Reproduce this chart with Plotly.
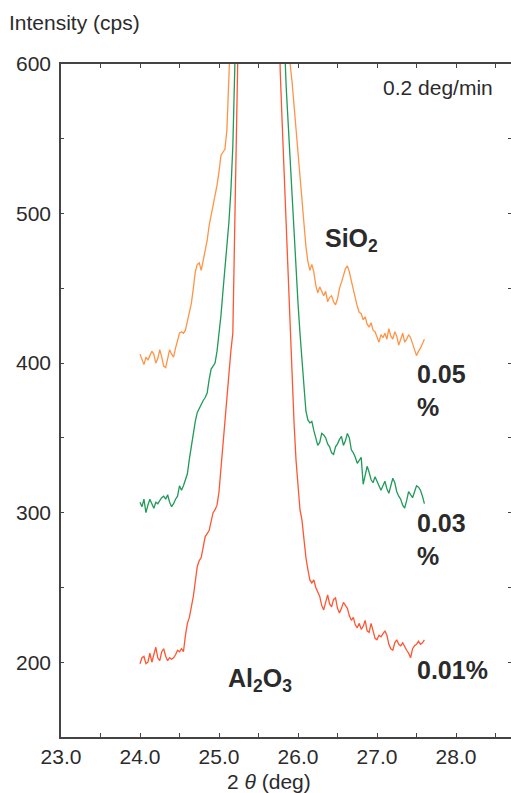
import numpy as np
import plotly.graph_objects as go

# 2-theta grid shared by the three scans (24.0 .. 27.6 deg, 0.025 deg step)
two_theta = np.round(24.0 + 0.025 * np.arange(145), 3)

# 0.05 % SiO2 scan (cps)
cps_005 = [
    406, 402, 399, 404, 402, 405, 408, 406, 400, 403,
    409, 404, 398, 397, 403, 409, 406, 404, 410, 415,
    420, 421, 420, 422, 428, 434, 440, 450, 461, 466,
    467, 462, 468, 476, 482, 492, 499, 504, 511, 519,
    528, 539, 541, 543, 556, 585, 610, 660, 740, 830,
    930, 1050, 1200, 1400, 1650, 1950, 2300, 2700, 3100, 3400,
    3500, 3400, 3100, 2700, 2300, 1900, 1550, 1250, 1050, 920,
    840, 780, 740, 715,
    700, 640, 600, 588, 572, 558, 542, 527, 508, 492,
    478, 468, 462, 466, 461, 452, 447, 451, 448, 445,
    448, 441, 444, 445, 441, 439, 443, 450, 454, 459,
    463, 465, 461, 455, 449, 442, 438, 434, 433, 429,
    431, 426, 424, 427, 422, 421, 418, 414, 419, 417,
    420, 416, 423, 418, 416, 421, 418, 412, 416, 420,
    414, 416, 419, 417, 413, 409, 405, 408, 410, 413,
    416,
]

# 0.03 % SiO2 scan (cps)
cps_003 = [
    307, 304, 309, 300, 305, 309, 306, 303, 307, 306,
    308, 310, 311, 309, 312, 307, 304, 306, 309, 311,
    318, 315, 318, 322, 326, 336, 345, 353, 361, 367,
    370, 373, 375, 377, 380, 389, 396, 398, 400, 408,
    419, 432, 448, 462, 476, 494, 515, 545, 598, 680,
    800, 950, 1150, 1400, 1700, 2050, 2450, 2850, 3200, 3450,
    3550, 3450, 3200, 2850, 2450, 2050, 1700, 1400, 1150, 950,
    820, 740,
    680, 620, 585, 560, 540, 515, 490, 465, 440, 420,
    400, 385, 368, 362, 360, 361, 355, 350, 345, 347,
    353, 352, 350, 346, 344, 340, 339, 344, 346, 349,
    351, 345, 348, 353, 350, 342, 340, 337, 333, 335,
    337, 319, 325, 331, 327, 322, 320, 324, 321, 318,
    315, 318, 321, 316, 313, 318, 323, 320, 314, 311,
    309, 305, 303, 308, 314, 312, 310, 314, 318, 317,
    315, 311, 306,
]

# 0.01 % SiO2 scan (cps)
cps_001 = [
    199, 203, 204, 199, 200, 206, 200, 206, 210, 203,
    201, 207, 209, 204, 201, 203, 202, 203, 205, 208,
    207, 209, 207, 218, 226, 230, 237, 244, 254, 264,
    268, 270, 277, 284, 286, 288, 294, 300, 302, 305,
    314, 330, 345, 360, 379, 396, 408, 420, 480, 550,
    640,
    800, 1000, 1300, 1700, 2100, 2600, 3000, 3400, 3650, 3750,
    3650, 3400, 3000, 2600, 2100, 1700, 1300, 1000, 800,
    660, 595, 560, 525, 495, 460, 422, 388, 360, 335,
    315, 302, 295, 282, 270, 262, 255, 253, 255, 250,
    247, 244, 238, 235, 240, 245, 239, 237, 242, 243,
    236, 233, 236, 240, 238, 236, 231, 228, 230, 225,
    223, 226, 222, 224, 228, 221, 220, 226, 221, 216,
    215, 218, 217, 219, 221, 218, 212, 209, 208, 213,
    215, 212, 211, 213, 210, 208, 206, 203, 209, 211,
    212, 214, 212, 213, 215,
]

series_names = ["0.05%", "0.03%", "0.01%"]
series_colors = ["#FF9447", "#1F9A58", "#FF5632"]
x_tick_values = [23, 24, 25, 26, 27, 28]
y_tick_values = [200, 300, 400, 500, 600]

for arr in (cps_005, cps_003, cps_001):
    assert len(arr) == len(two_theta), len(arr)

FONT = "Liberation Sans, Arial, sans-serif"
INK = "#2b2b2b"

fig = go.Figure()
for name, ys, col in zip(series_names, [cps_005, cps_003, cps_001], series_colors):
    fig.add_trace(go.Scatter(
        x=two_theta, y=ys, mode="lines", name=name,
        line=dict(color=col, width=1.3), showlegend=False,
    ))

# invisible trace on the right-hand axis so its inside ticks get drawn
fig.add_trace(go.Scatter(x=[23], y=[150], yaxis="y2", mode="markers",
                         marker=dict(opacity=0), showlegend=False, hoverinfo="skip"))

fig.update_layout(
    width=511, height=793,
    margin=dict(l=61, r=0, t=64, b=56),
    paper_bgcolor="white", plot_bgcolor="white",
    font=dict(family=FONT, size=21, color=INK),
    xaxis=dict(
        range=[23, 28.696], showgrid=False, zeroline=False,
        showline=True, linecolor="#444", linewidth=1.5, mirror="ticks",
        ticks="inside", ticklen=4, tickcolor="#444", tickwidth=1,
        tickvals=x_tick_values, tickformat=".1f",
        minor=dict(dtick=0.5, tick0=23, ticks="inside", ticklen=4, tickcolor="#444"),
        tickfont=dict(size=21, color=INK),
    ),
    yaxis=dict(
        range=[150, 600], showgrid=False, zeroline=False,
        showline=True, linecolor="#444", linewidth=1.5,
        ticks="inside", ticklen=3, tickcolor="#444", tickwidth=1,
        tickvals=y_tick_values,
        minor=dict(dtick=50, tick0=150, ticks="inside", ticklen=3, tickcolor="#444"),
        tickfont=dict(size=21, color=INK),
        ticklabelstandoff=4,
    ),
    yaxis2=dict(
        range=[150, 600], overlaying="y", side="right", anchor="x",
        showgrid=False, zeroline=False, showline=False,
        ticks="inside", ticklen=3, tickcolor="#444", dtick=50, tick0=150,
        showticklabels=False,
    ),
)

def note(text, x, y, xref="x", yref="y", size=21, bold=False, xanchor="left",
         yanchor="middle", align="left"):
    fig.add_annotation(
        text=f"<b>{text}</b>" if bold else text, x=x, y=y, xref=xref, yref=yref,
        showarrow=False, xanchor=xanchor, yanchor=yanchor, align=align,
        font=dict(family=FONT, size=size, color=INK),
    )

note("Intensity (cps)", -0.12, 1.0624, xref="paper", yref="paper")
note("2 <i>θ</i> (deg)", 0.462, -0.066, xref="paper", yref="paper", xanchor="center")
note("0.2 deg/min", 0.9644, 0.9658, xref="paper", yref="paper", xanchor="right")
note("SiO<sub>2</sub>", 26.32, 482, size=25, bold=True)
note("Al<sub>2</sub>O<sub>3</sub>", 25.09, 188, size=25, bold=True)
note("0.05<br>%", 27.48, 382, size=25, bold=True)
note("0.03<br>%", 27.48, 282, size=25, bold=True)
note("0.01%", 27.48, 195, size=25, bold=True)

fig.write_html("out.html")
